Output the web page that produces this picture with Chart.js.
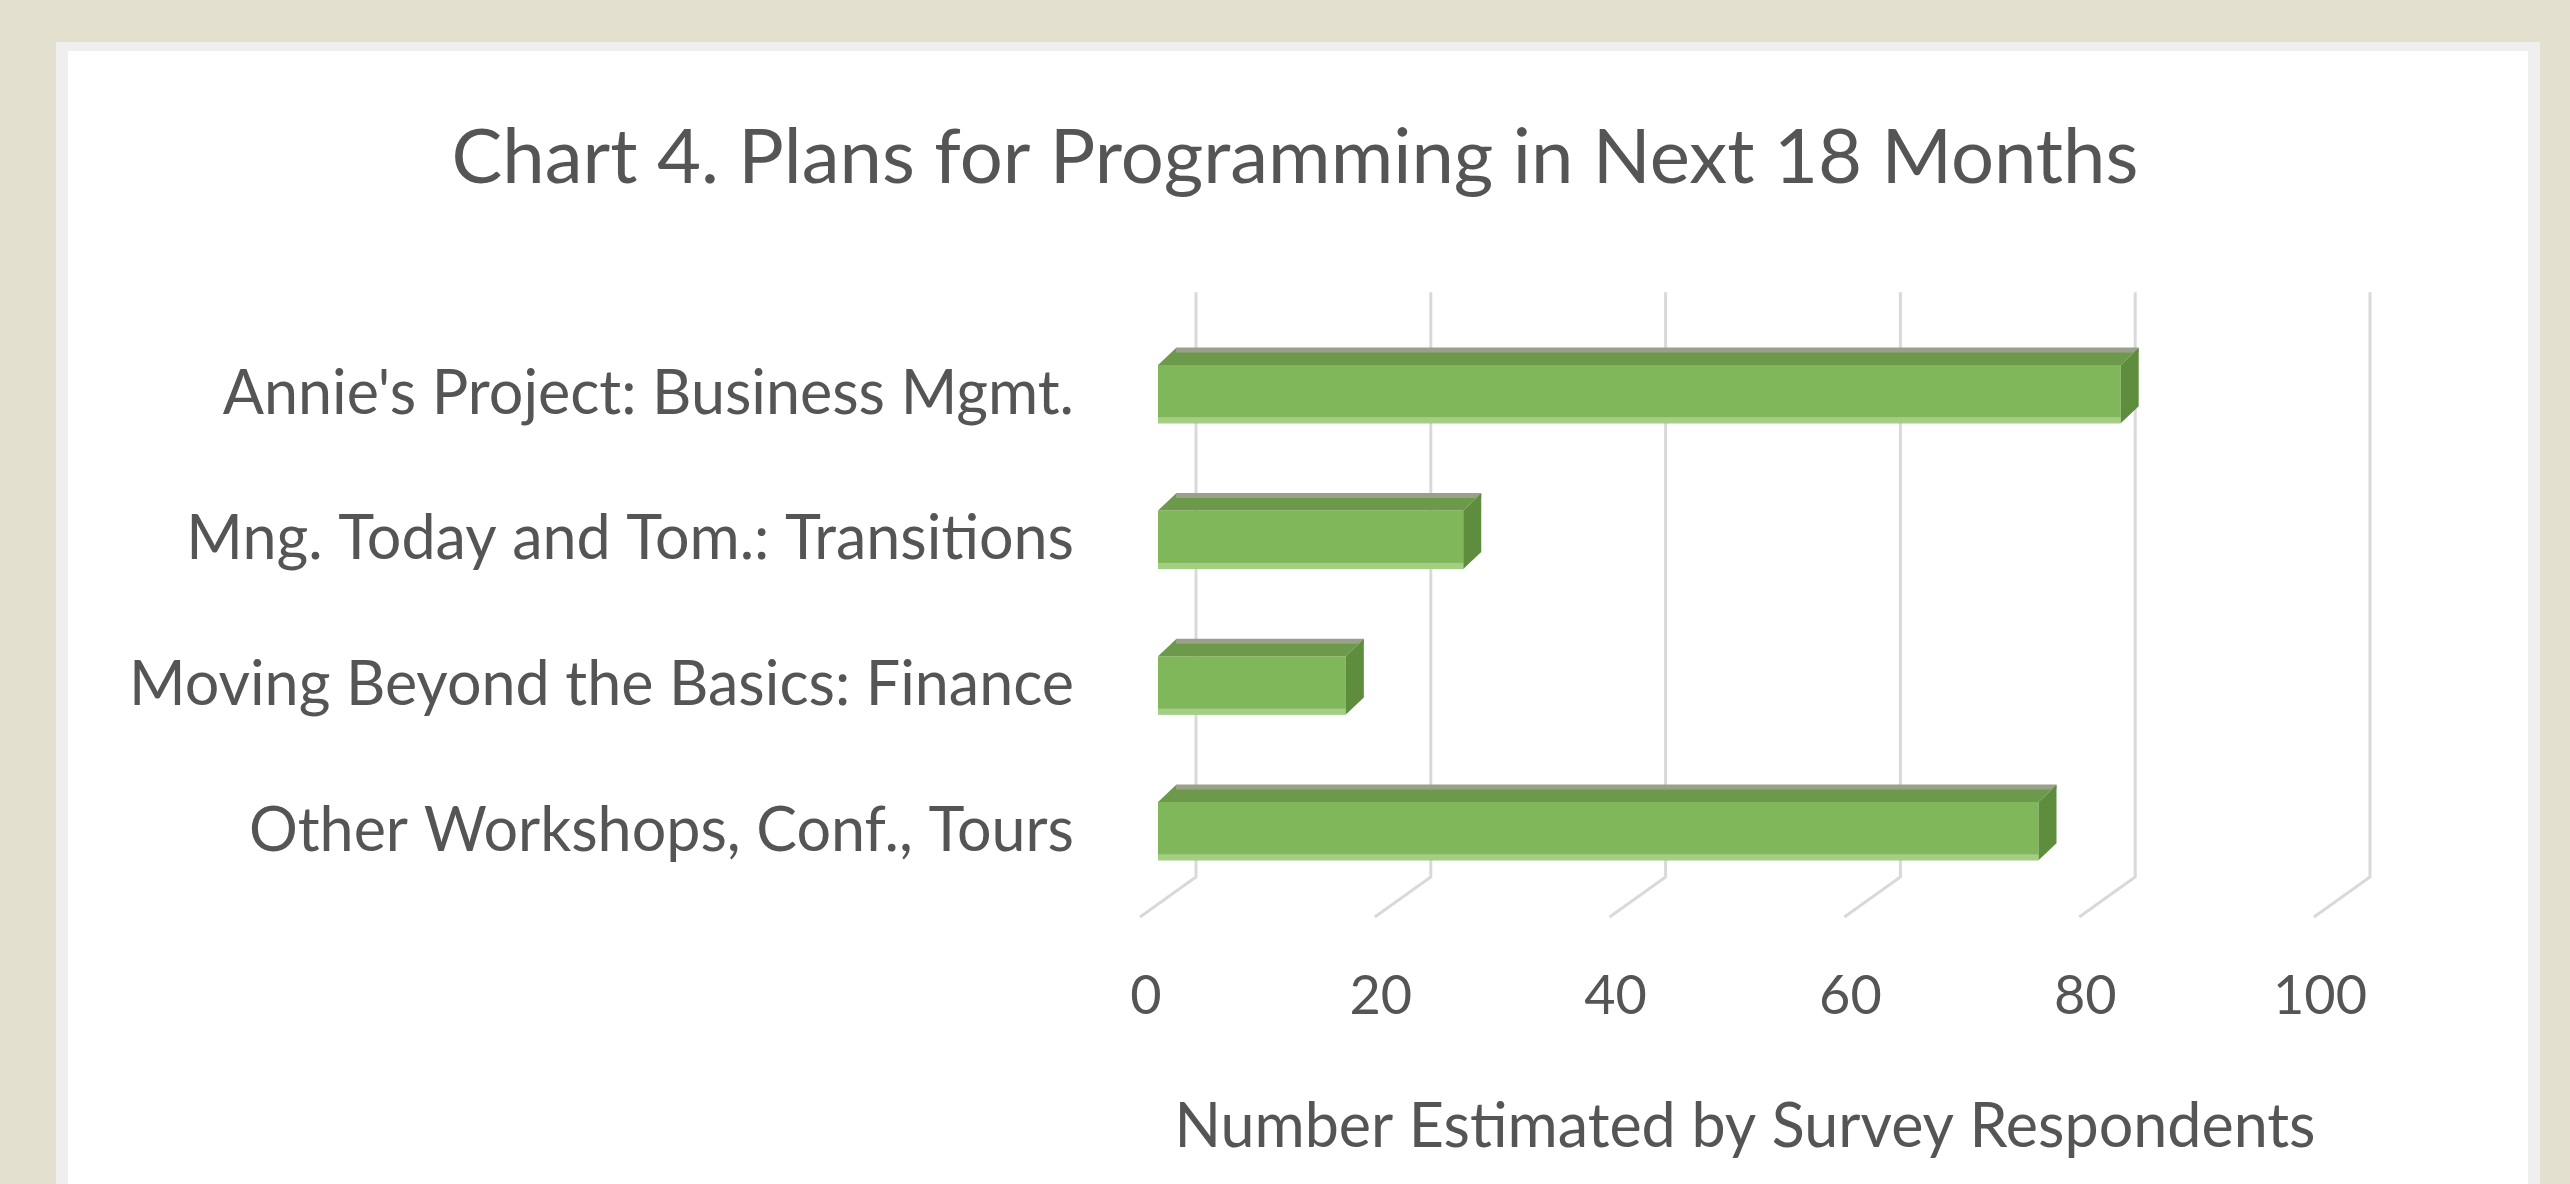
<!DOCTYPE html>
<html>
<head>
<meta charset="utf-8">
<script src="https://cdn.jsdelivr.net/npm/chart.js@4"></script>
<style>
  html, body { margin:0; padding:0; background:#e3e0cf; overflow:hidden; }
  #card { position:absolute; left:56px; top:42px; width:2460px; height:1200px;
          background:#fff; border:12px solid #efefef; border-top-width:9px; }
  #chart { position:absolute; left:0; top:0; }
</style>
</head>
<body>
<div id="card"></div>
<canvas id="chart" width="2570" height="1184"></canvas>
<script>
// data
const categories = [
  "Annie's Project: Business Mgmt.",
  "Mng. Today and Tom.: Transitions",
  "Moving Beyond the Basics: Finance",
  "Other Workshops, Conf., Tours"
];
const respondents = [82, 26, 16, 75];
const xTicks = [0, 20, 40, 60, 80, 100];

const TEXT = "#555555";
const FONT = "Lato, 'Open Sans', sans-serif";

// fake 3D: back wall gridlines + floor diagonals
const wallGrid = {
  id: "wallGrid",
  beforeDatasetsDraw(chart) {
    const ctx = chart.ctx, xs = chart.scales.x, area = chart.chartArea;
    ctx.save();
    ctx.strokeStyle = "#d9d9d9";
    ctx.lineWidth = 3;
    xTicks.forEach(v => {
      const px = xs.getPixelForValue(v) + 38;
      ctx.beginPath();
      ctx.moveTo(px, area.top - 29);
      ctx.lineTo(px, area.bottom - 27);
      ctx.lineTo(px - 56, area.bottom + 13);
      ctx.stroke();
    });
    ctx.restore();
  }
};

// top + side faces on each bar
const barFaces = {
  id: "barFaces",
  afterDatasetsDraw(chart) {
    const ctx = chart.ctx;
    const dx = 18, dy = 17;
    chart.getDatasetMeta(0).data.forEach(bar => {
      const top = bar.y - bar.height / 2, bot = bar.y + bar.height / 2;
      const x0 = bar.base, x1 = bar.x;
      ctx.save();
      // top face
      ctx.fillStyle = "#6c9a4a";
      ctx.beginPath();
      ctx.moveTo(x0, top); ctx.lineTo(x0 + dx, top - dy);
      ctx.lineTo(x1 + dx, top - dy); ctx.lineTo(x1, top);
      ctx.closePath(); ctx.fill();
      ctx.strokeStyle = "#9ba08b";
      ctx.lineWidth = 5;
      ctx.beginPath();
      ctx.moveTo(x0 + dx, top - dy + 2); ctx.lineTo(x1 + dx, top - dy + 2);
      ctx.stroke();
      // side face
      ctx.fillStyle = "#5e8d3d";
      ctx.beginPath();
      ctx.moveTo(x1, top); ctx.lineTo(x1 + dx, top - dy);
      ctx.lineTo(x1 + dx, bot - dy); ctx.lineTo(x1, bot);
      ctx.closePath(); ctx.fill();
      // light lower edge of the front face
      ctx.fillStyle = "#a4cf83";
      ctx.fillRect(x0, bot - 6, x1 - x0, 6);
      ctx.restore();
    });
  }
};

// let the long category labels spill left of the padded area
const unclipY = {
  id: "unclipY",
  afterLayout(chart) { chart.scales.y.left = 0; }
};

new Chart(document.getElementById("chart"), {
  type: "bar",
  data: {
    labels: categories,
    datasets: [{
      data: respondents,
      backgroundColor: "#80b75a",
      borderWidth: 0,
      categoryPercentage: 0.8,
      barPercentage: 0.5
    }]
  },
  options: {
    indexAxis: "y",
    responsive: false,
    animation: false,
    devicePixelRatio: 1,
    layout: { padding: { left: 258, right: 238, top: 0, bottom: 0 } },
    plugins: {
      legend: { display: false },
      tooltip: { enabled: false },
      title: {
        display: true,
        text: "Chart 4. Plans for Programming in Next 18 Months",
        color: TEXT,
        font: { family: FONT, size: 76, weight: "normal" },
        padding: { top: 113, bottom: 117 }
      }
    },
    scales: {
      x: {
        min: 0, max: 100,
        afterBuildTicks: s => { s.ticks = xTicks.map(v => ({ value: v })); },
        grid: { display: false, drawTicks: false },
        border: { display: false },
        ticks: { color: TEXT, font: { family: FONT, size: 54 }, padding: 60, labelOffset: -12 },
        title: {
          display: true,
          text: "Number Estimated by Survey Respondents",
          color: TEXT,
          font: { family: FONT, size: 61 },
          padding: { top: 2, bottom: 20 }
        }
      },
      y: {
        afterFit: s => { s.width = 900; },
        grid: { display: false, drawTicks: false },
        border: { display: false },
        ticks: { color: TEXT, font: { family: FONT, size: 61 }, padding: 84 }
      }
    }
  },
  plugins: [wallGrid, barFaces, unclipY]
});
</script>
</body>
</html>
